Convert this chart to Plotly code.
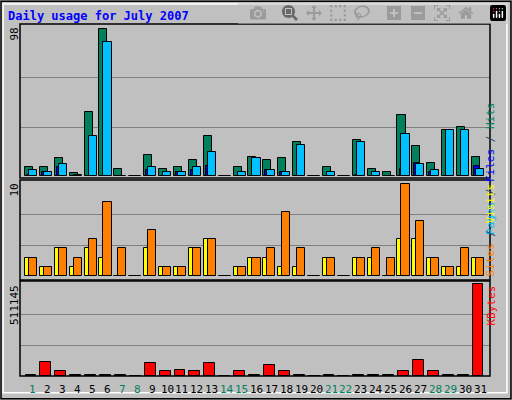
import plotly.graph_objects as go

days = list(range(1, 32))
hits = [6, 6, 12, 2, 43, 98, 5, 0, 14, 5, 6, 11, 27, 0, 6, 13, 11, 12, 23, 0, 6, 0, 24, 5, 3, 41, 20, 9, 31, 33, 13]
files = [4, 3, 8, 1, 27, 89, 0, 0, 6, 3, 3, 6, 16, 0, 3, 12, 4, 3, 21, 0, 3, 0, 23, 3, 0, 28, 8, 4, 31, 31, 5]
pages = [1, 3, 6, 0, 0, 0, 0, 0, 4, 0, 3, 4, 7, 0, 0, 0, 4, 3, 0, 0, 0, 0, 1, 0, 0, 5, 9, 3, 0, 0, 7]
sites = [2, 1, 3, 1, 3, 2, 0, 0, 3, 1, 1, 3, 4, 0, 1, 2, 2, 1, 1, 0, 2, 0, 2, 2, 0, 4, 4, 2, 1, 1, 2]
visits = [2, 1, 3, 2, 4, 8, 3, 0, 5, 1, 1, 3, 4, 0, 1, 2, 3, 7, 3, 0, 2, 0, 2, 3, 2, 10, 6, 2, 1, 3, 2]
kbytes = [3000, 76000, 26000, 3000, 3000, 3000, 3000, 0, 70000, 26000, 32000, 26000, 70000, 0,
          26000, 3000, 60000, 26000, 3000, 0, 3000, 0, 3000, 3000, 3000, 26000, 87000, 26000,
          3000, 3000, 511145]
weekend = [1, 7, 8, 14, 15, 21, 22, 28, 29]

MONO = "DejaVu Sans Mono"
fig = go.Figure()

def bar(y, color, off, w, ax):
    fig.add_trace(go.Bar(x=days, y=y, offset=off, width=w, marker_color=color,
                         marker_line_color="black", marker_line_width=1,
                         xaxis="x" + ax, yaxis="y" + ax, showlegend=False))

bar(hits, "#00805c", -0.54, 0.54, "")
bar(pages, "#0000ff", -0.4, 0.4, "")
bar(files, "#00c0ff", -0.27, 0.54, "")
bar(sites, "#ffff00", -0.54, 0.54, "2")
bar(visits, "#ff8000", -0.27, 0.54, "2")
bar(kbytes, "#ff0000", -0.5, 0.73, "3")

xr = [0.13, 31.67]
xd = [20 / 512, 490 / 512]
panels = [("", 24, 178, [-1.3, 101.3], 98), ("2", 180, 280, [-0.43, 10.43], 10),
          ("3", 281, 376, [0, 511145 * 1.033], 511145)]
layout = {}
for ax, top, bot, yr, mx in panels:
    layout["xaxis" + ax] = dict(domain=xd, range=xr, showticklabels=False, showgrid=False,
                                zeroline=False, anchor="y" + ax)
    layout["yaxis" + ax] = dict(domain=[1 - bot / 400, 1 - top / 400], range=yr,
                                tickvals=[mx / 3, 2 * mx / 3], showticklabels=False,
                                gridcolor="#808080", gridwidth=1, zeroline=False,
                                anchor="x" + ax)
    fig.add_shape(type="rect", xref="paper", yref="paper", x0=xd[0], x1=xd[1],
                  y0=1 - bot / 400, y1=1 - top / 400, line=dict(color="black", width=1.5))
    fig.add_annotation(text=f"{mx}", x=14 / 512, y=1 - (top + 2) / 400, xref="paper", yref="paper",
                       textangle=-90, showarrow=False, xanchor="center", yanchor="top",
                       font=dict(family=MONO, size=11, color="black"))

fig.update_layout(**layout)

# outer frame
fig.add_shape(type="rect", xref="paper", yref="paper", x0=0.002, x1=0.998, y0=0.003, y1=0.997,
              line=dict(color="black", width=1.5))
fig.add_shape(type="rect", xref="paper", yref="paper", x0=0.006, x1=0.99, y0=0.018, y1=0.99,
              line=dict(color="white", width=1.5))

fig.add_annotation(text="<b>Daily usage for July 2007</b>", x=6 / 512, y=1 - 16 / 400,
                   xref="paper", yref="paper", showarrow=False, xanchor="left", yanchor="middle",
                   font=dict(family=MONO, size=12, color="#0000ff"))

right = [("<span style='color:#00c0ff'>Pages</span> / <span style='color:#0000ff'>Files</span>"
          " / <span style='color:#00805c'>Hits</span>", 100),
         ("<span style='color:#ff8000'>Sites</span> / <span style='color:#ffff00'>Visits</span>", 230),
         ("<span style='color:#ff0000'>KBytes</span>", 328)]
for t, yc in right:
    fig.add_annotation(text=t, x=499 / 512, y=1 - yc / 400, xref="paper", yref="paper",
                       textangle=-90, showarrow=False, font=dict(family=MONO, size=11))

for d in days:
    fig.add_annotation(text=str(d), x=d, y=1 - 389 / 400, xref="x3", yref="paper",
                       showarrow=False, yanchor="middle",
                       font=dict(family=MONO, size=11, color="#00805c" if d in weekend else "black"))

fig.update_layout(width=512, height=400, margin=dict(l=0, r=0, t=0, b=0),
                  paper_bgcolor="#c0c0c0", plot_bgcolor="#c0c0c0", barmode="overlay",
                  bargap=0)
fig.write_html("out.html", post_script="document.body.style.margin='0';document.body.style.overflow='hidden';")
